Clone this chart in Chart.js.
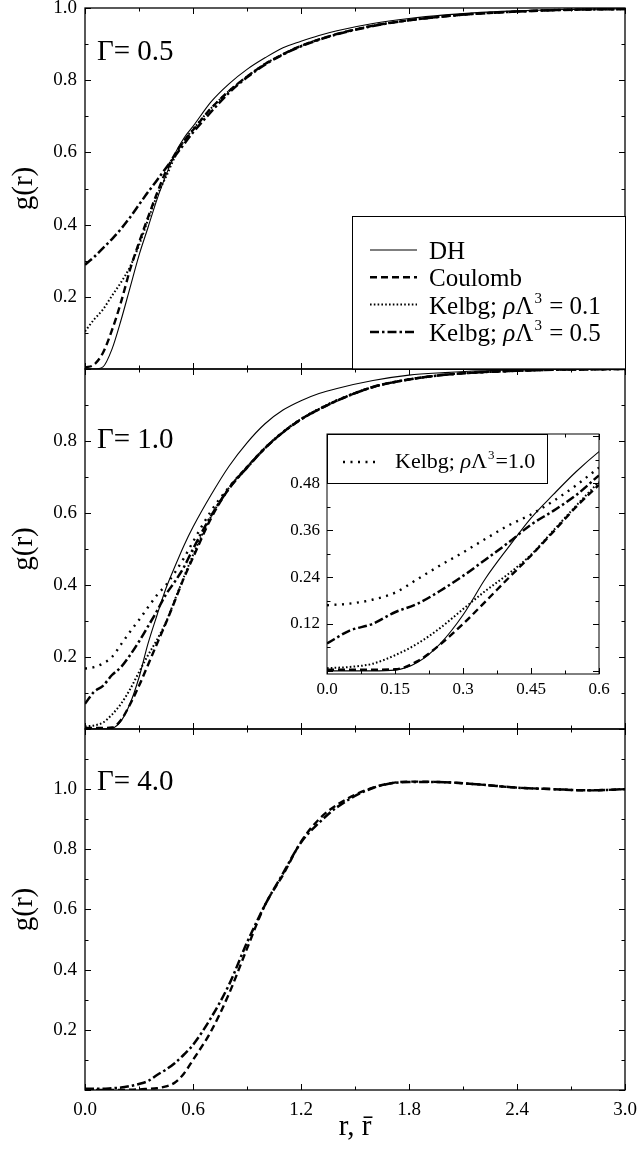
<!DOCTYPE html>
<html>
<head>
<meta charset="utf-8">
<script src="https://cdn.jsdelivr.net/npm/chart.js@4.4.1/dist/chart.umd.min.js"></script>
<style>
  html, body { margin: 0; padding: 0; background: #fff; }
  #wrap { position: relative; width: 639px; height: 1152px; overflow: hidden; }
  canvas { position: absolute; left: 0; }
</style>
</head>
<body>
<div id="wrap">
  <canvas id="p1" width="639" height="372" style="top:0px"></canvas>
  <canvas id="p2" width="639" height="366" style="top:366px"></canvas>
  <canvas id="p3" width="639" height="426" style="top:726px"></canvas>
  <canvas id="inset" width="330" height="286" style="left:280px;top:424px"></canvas>
</div>
<script>
// r grid shared by all curves
const rGrid = [0, 0.05, 0.1, 0.15, 0.2, 0.25, 0.3, 0.35, 0.4, 0.45, 0.5, 0.55, 0.6,
  0.7, 0.8, 0.9, 1.0, 1.1, 1.2, 1.3, 1.4, 1.6, 1.8, 2.0, 2.2, 2.4, 2.6, 2.8, 3.0];

// Gamma = 0.5
const g05DH      = [0, 0, 0.006, 0.055, 0.135, 0.225, 0.315, 0.392, 0.47, 0.537, 0.597, 0.64, 0.672,
  0.74, 0.79, 0.83, 0.862, 0.89, 0.908, 0.924, 0.937, 0.957, 0.971, 0.981, 0.988, 0.992, 0.995, 0.997, 0.998];
const g05Coulomb = [0.004, 0.012, 0.045, 0.108, 0.185, 0.275, 0.35, 0.42, 0.487, 0.548, 0.595, 0.632, 0.662,
  0.722, 0.77, 0.81, 0.845, 0.872, 0.895, 0.913, 0.928, 0.951, 0.966, 0.977, 0.985, 0.99, 0.994, 0.996, 0.997];
const g05Kelbg01 = [0.104, 0.137, 0.165, 0.203, 0.24, 0.283, 0.343, 0.413, 0.48, 0.532, 0.588, 0.632, 0.664,
  0.722, 0.77, 0.81, 0.845, 0.872, 0.895, 0.913, 0.928, 0.951, 0.966, 0.977, 0.985, 0.99, 0.994, 0.996, 0.997];
const g05Kelbg05 = [0.289, 0.31, 0.335, 0.36, 0.388, 0.42, 0.455, 0.49, 0.523, 0.557, 0.59, 0.623, 0.655,
  0.712, 0.765, 0.808, 0.843, 0.871, 0.894, 0.912, 0.927, 0.95, 0.966, 0.977, 0.985, 0.99, 0.994, 0.996, 0.997];

// Gamma = 1.0
const g10DH      = [0, 0, 0, 0.002, 0.022, 0.07, 0.143, 0.237, 0.316, 0.391, 0.452, 0.51, 0.561,
  0.65, 0.73, 0.795, 0.848, 0.886, 0.912, 0.932, 0.946, 0.968, 0.983, 0.99, 0.995, 0.997, 0.999, 0.999, 1.0];
const g10Coulomb = [0.003, 0.003, 0.003, 0.004, 0.025, 0.068, 0.12, 0.178, 0.237, 0.295, 0.357, 0.42, 0.476,
  0.585, 0.668, 0.726, 0.78, 0.824, 0.86, 0.888, 0.912, 0.95, 0.971, 0.984, 0.991, 0.995, 0.998, 0.999, 1.0];
const g10Kelbg01 = [0.007, 0.01, 0.018, 0.04, 0.07, 0.11, 0.158, 0.205, 0.248, 0.297, 0.36, 0.423, 0.483,
  0.59, 0.67, 0.728, 0.781, 0.825, 0.861, 0.889, 0.913, 0.95, 0.971, 0.984, 0.991, 0.995, 0.998, 0.999, 1.0];
const g10Kelbg05 = [0.07, 0.103, 0.12, 0.15, 0.172, 0.205, 0.243, 0.285, 0.328, 0.374, 0.41, 0.45, 0.5,
  0.592, 0.668, 0.726, 0.78, 0.824, 0.86, 0.888, 0.912, 0.95, 0.971, 0.984, 0.991, 0.995, 0.998, 0.999, 1.0];
const g10Kelbg10 = [0.168, 0.172, 0.182, 0.2, 0.235, 0.27, 0.303, 0.338, 0.372, 0.4, 0.435, 0.475, 0.52,
  0.605, 0.672, 0.728, 0.781, 0.825, 0.861, 0.889, 0.913, 0.95, 0.971, 0.984, 0.991, 0.995, 0.998, 0.999, 1.0];

// Gamma = 4.0
const g40Coulomb = [0, 0, 0, 0, 0, 0.001, 0.002, 0.004, 0.006, 0.012, 0.025, 0.055, 0.1,
  0.195, 0.32, 0.47, 0.615, 0.715, 0.825, 0.9, 0.948, 1.005, 1.025, 1.023, 1.015, 1.005, 1.0, 0.996, 1.0];
const g40Kelbg05 = [0.004, 0.004, 0.004, 0.006, 0.008, 0.013, 0.02, 0.03, 0.05, 0.068, 0.09, 0.118, 0.15,
  0.24, 0.35, 0.49, 0.615, 0.72, 0.823, 0.888, 0.94, 1.004, 1.024, 1.023, 1.015, 1.005, 1.0, 0.996, 1.0];

const seriesLabels = ['DH', 'Coulomb', 'Kelbg; ρΛ³ = 0.1', 'Kelbg; ρΛ³ = 0.5', 'Kelbg; ρΛ³=1.0'];
const panelTags = ['Γ= 0.5', 'Γ= 1.0', 'Γ= 4.0'];

const xTickVals = [0, 0.6, 1.2, 1.8, 2.4, 3.0];
const p1YTicks = [0.2, 0.4, 0.6, 0.8, 1.0];
const p2YTicks = [0.2, 0.4, 0.6, 0.8];
const p3YTicks = [0.2, 0.4, 0.6, 0.8, 1.0];
const insetXTicks = [0, 0.15, 0.3, 0.45, 0.6];
const insetXLabels = ['0.0', '0.15', '0.3', '0.45', '0.6'];
const insetYTicks = [0.12, 0.24, 0.36, 0.48];
const insetYLabels = ['0.12', '0.24', '0.36', '0.48'];

const serif = '"Liberation Serif", "Times New Roman", Times, serif';
Chart.defaults.font.family = serif;
Chart.defaults.color = '#000';

const styles = {
  DH:      { borderDash: [], borderWidth: 1.1 },
  Coulomb: { borderDash: [7, 4], borderWidth: 2.4 },
  K01:     { borderDash: [1.6, 2.2], borderWidth: 2 },
  K05:     { borderDash: [9, 3, 2.5, 3], borderWidth: 2.5 },
  K10:     { borderDash: [2, 5.5], borderWidth: 2.4 }
};

function series(label, values, style) {
  return {
    label: label,
    data: rGrid.map((r, i) => ({ x: r, y: values[i] })),
    borderColor: '#000',
    backgroundColor: '#000',
    pointRadius: 0,
    fill: false,
    cubicInterpolationMode: 'monotone',
    borderDash: style.borderDash,
    borderWidth: style.borderWidth
  };
}

// text with italic rho and superscript 3
function drawRich(ctx, text, x, y, size) {
  text.split(/(ρ|³)/).forEach(part => {
    if (!part) return;
    if (part === '³') {
      ctx.font = Math.round(size * 0.6) + 'px ' + serif;
      ctx.fillText('3', x + 1, y - size * 0.42);
      x += ctx.measureText('3').width + 2;
    } else {
      ctx.font = (part === 'ρ' ? 'italic ' : '') + size + 'px ' + serif;
      ctx.fillText(part, x, y);
      x += ctx.measureText(part).width;
    }
  });
}

// no extra room for the edge labels, the area is set by layout padding
function noPad(s) {
  s.paddingTop = 0; s.paddingBottom = 0; s.paddingLeft = 0; s.paddingRight = 0;
}

const paperPlugin = {
  id: 'paper',
  beforeDatasetsDraw(chart) {
    const a = chart.chartArea;
    chart.ctx.save();
    chart.ctx.fillStyle = '#fff';
    chart.ctx.fillRect(a.left, a.top, a.right - a.left, a.bottom - a.top);
    chart.ctx.restore();
  }
};

// box plus inward ticks on four sides
const framePlugin = {
  id: 'frame',
  afterDatasetsDraw(chart, args, opts) {
    const { ctx, chartArea: a } = chart;
    const x = chart.scales.x, y = chart.scales.y;
    const steps = (min, max, step) => {
      const out = [];
      for (let k = Math.ceil(min / step - 1e-9); k * step <= max + 1e-9; k++) out.push(k * step);
      return out;
    };
    const isMajor = (v, m) => Math.abs(v / m - Math.round(v / m)) < 1e-6;
    ctx.save();
    ctx.strokeStyle = '#000';
    ctx.lineWidth = opts.lineWidth;
    ctx.strokeRect(a.left, a.top, a.right - a.left, a.bottom - a.top);
    ctx.lineWidth = 1;
    ctx.beginPath();
    steps(x.min, x.max, opts.xMinor).forEach(v => {
      const px = Math.round(x.getPixelForValue(v)) + 0.5;
      const len = isMajor(v, opts.xMajor) ? 6 : 3.5;
      ctx.moveTo(px, a.bottom); ctx.lineTo(px, a.bottom - len);
      ctx.moveTo(px, a.top); ctx.lineTo(px, a.top + len);
    });
    steps(Math.max(y.min, 0), y.max, opts.yMinor).forEach(v => {
      const py = Math.round(y.getPixelForValue(v)) + 0.5;
      const len = isMajor(v, opts.yMajor) ? 6 : 3.5;
      ctx.moveTo(a.left, py); ctx.lineTo(a.left + len, py);
      ctx.moveTo(a.right, py); ctx.lineTo(a.right - len, py);
    });
    ctx.stroke();
    ctx.restore();
  }
};

const tagPlugin = {
  id: 'tag',
  afterDraw(chart, args, opts) {
    if (!opts.text) return;
    const a = chart.chartArea;
    chart.ctx.save();
    chart.ctx.fillStyle = '#000';
    chart.ctx.font = '29px ' + serif;
    chart.ctx.textBaseline = 'alphabetic';
    chart.ctx.fillText(opts.text, a.left + 12, a.top + opts.dy);
    chart.ctx.restore();
  }
};

const legendPlugin = {
  id: 'boxLegend',
  afterDraw(chart, args, opts) {
    if (!opts.items) return;
    const { ctx, chartArea: a } = chart;
    const left = opts.corner === 'br' ? a.right - opts.w : a.left;
    const top = opts.corner === 'br' ? a.bottom - opts.h : a.top;
    ctx.save();
    ctx.fillStyle = '#fff';
    ctx.fillRect(left, top, opts.w, opts.h);
    ctx.strokeStyle = '#000';
    ctx.lineWidth = 1;
    ctx.strokeRect(Math.round(left) + 0.5, Math.round(top) + 0.5, opts.w, opts.h);
    ctx.fillStyle = '#000';
    ctx.textBaseline = 'alphabetic';
    opts.items.forEach((idx, row) => {
      const ds = chart.data.datasets[idx];
      const base = top + opts.firstBaseline + row * opts.rowStep;
      ctx.beginPath();
      ctx.setLineDash(ds.borderDash);
      ctx.lineWidth = ds.borderWidth;
      ctx.moveTo(left + opts.sampleX[0], base + opts.sampleDy);
      ctx.lineTo(left + opts.sampleX[1], base + opts.sampleDy);
      ctx.stroke();
      ctx.setLineDash([]);
      drawRich(ctx, ds.label, left + opts.textX, base, opts.fontSize);
    });
    ctx.restore();
  }
};

function makePanel(id, datasets, yMax, yTicks, cfg) {
  return new Chart(document.getElementById(id), {
    type: 'line',
    data: { datasets: datasets },
    options: {
      responsive: false,
      animation: false,
      layout: { padding: cfg.padding },
      scales: {
        x: {
          type: 'linear', min: 0, max: 3,
          display: cfg.showX,
          grid: { display: false, drawTicks: false }, border: { display: false },
          afterBuildTicks: s => { s.ticks = xTickVals.map(v => ({ value: v })); },
          afterFit: s => { s.height = cfg.showX ? 62 : 0; noPad(s); },
          ticks: { autoSkip: false, maxRotation: 0, padding: 9, font: { size: 19 }, callback: v => v.toFixed(1) },
          title: { display: true, text: 'r, r\u0304', font: { size: 29 }, padding: { top: 0, bottom: 7 } }
        },
        y: {
          type: 'linear', min: 0, max: yMax,
          grid: { display: false, drawTicks: false }, border: { display: false },
          afterBuildTicks: s => { s.ticks = yTicks.map(v => ({ value: v })); },
          afterFit: s => { s.width = 85; noPad(s); },
          ticks: { autoSkip: false, padding: 8, font: { size: 19 }, callback: v => v.toFixed(1) },
          title: { display: true, text: 'g(r)', font: { size: 29 }, padding: { top: 7, bottom: 0 } }
        }
      },
      plugins: {
        legend: { display: false },
        tooltip: { enabled: false },
        frame: { lineWidth: 1.3, xMinor: 0.3, xMajor: 0.6, yMinor: 0.1, yMajor: 0.2 },
        tag: cfg.tag,
        boxLegend: cfg.legend || {}
      }
    },
    plugins: [framePlugin, tagPlugin, legendPlugin]
  });
}

makePanel('p1', [
  series(seriesLabels[0], g05DH, styles.DH),
  series(seriesLabels[1], g05Coulomb, styles.Coulomb),
  series(seriesLabels[2], g05Kelbg01, styles.K01),
  series(seriesLabels[3], g05Kelbg05, styles.K05)
], 1.0, p1YTicks, {
  padding: { top: 8, bottom: 3, left: 0, right: 14 },
  showX: false,
  tag: { text: panelTags[0], dy: 52 },
  legend: {
    items: [0, 1, 2, 3], corner: 'br', w: 273, h: 153,
    sampleX: [18, 65], textX: 77, firstBaseline: 43, rowStep: 27.3, sampleDy: -9, fontSize: 25
  }
});

const p2Sets = () => [
  series(seriesLabels[0], g10DH, styles.DH),
  series(seriesLabels[1], g10Coulomb, styles.Coulomb),
  series(seriesLabels[2], g10Kelbg01, styles.K01),
  series(seriesLabels[3], g10Kelbg05, styles.K05),
  series(seriesLabels[4], g10Kelbg10, styles.K10)
];

makePanel('p2', p2Sets(), 1.0, p2YTicks, {
  padding: { top: 3, bottom: 3, left: 0, right: 14 },
  showX: false,
  tag: { text: panelTags[1], dy: 79 }
});

makePanel('p3', [
  series(seriesLabels[1], g40Coulomb, styles.Coulomb),
  series(seriesLabels[3], g40Kelbg05, styles.K05)
], 1.2, p3YTicks, {
  padding: { top: 3, bottom: 0, left: 0, right: 14 },
  showX: true,
  tag: { text: panelTags[2], dy: 61 }
});

// inset: zoom of the Gamma = 1.0 panel at small r
new Chart(document.getElementById('inset'), {
  type: 'line',
  data: { datasets: p2Sets() },
  options: {
    responsive: false,
    animation: false,
    layout: { padding: { top: 10, right: 11, left: 0, bottom: 0 } },
    scales: {
      x: {
        type: 'linear', min: 0, max: 0.6,
        grid: { display: false, drawTicks: false }, border: { display: false },
        afterBuildTicks: s => { s.ticks = insetXTicks.map(v => ({ value: v })); },
        afterFit: s => { s.height = 36; noPad(s); },
        ticks: { autoSkip: false, maxRotation: 0, padding: 5, font: { size: 17 }, callback: (v, i) => insetXLabels[i] }
      },
      y: {
        type: 'linear', min: -0.008, max: 0.606,
        grid: { display: false, drawTicks: false }, border: { display: false },
        afterBuildTicks: s => { s.ticks = insetYTicks.map(v => ({ value: v })); },
        afterFit: s => { s.width = 47; noPad(s); },
        ticks: { autoSkip: false, padding: 7, font: { size: 17 }, callback: (v, i) => insetYLabels[i] }
      }
    },
    plugins: {
      legend: { display: false },
      tooltip: { enabled: false },
      frame: { lineWidth: 1, xMinor: 0.075, xMajor: 0.15, yMinor: 0.06, yMajor: 0.12 },
      boxLegend: {
        items: [4], corner: 'tl', w: 220, h: 49,
        sampleX: [16, 53], textX: 68, firstBaseline: 34, rowStep: 0, sampleDy: -6, fontSize: 22
      }
    }
  },
  plugins: [paperPlugin, framePlugin, legendPlugin]
});
</script>
</body>
</html>
